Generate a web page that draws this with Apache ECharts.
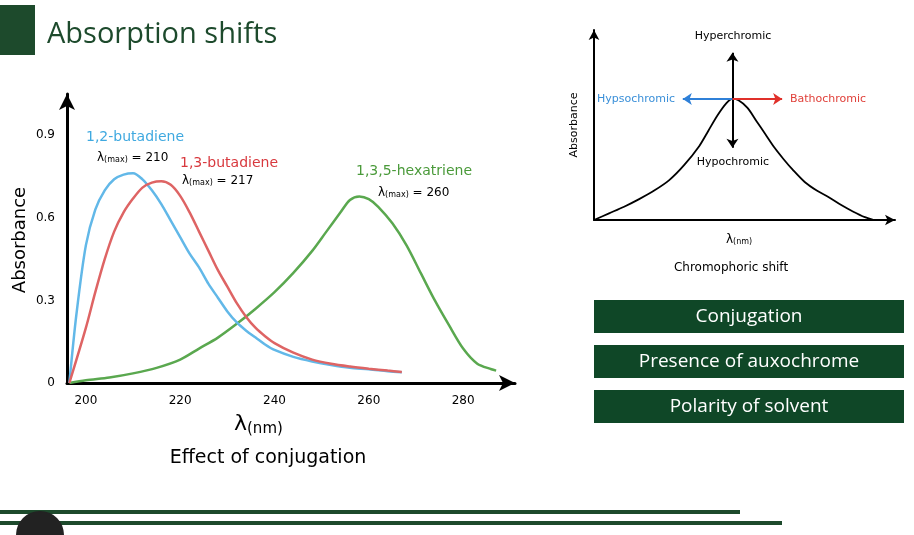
<!DOCTYPE html>
<html><head><meta charset="utf-8">
<script src="https://cdn.jsdelivr.net/npm/echarts@6/dist/echarts.min.js"></script>
<style>html,body{margin:0;padding:0;background:#fff}#c{width:914px;height:535px}</style>
</head><body><div id="c"></div>
<script>
const blueData = [[196.5,0],[198,0.25],[200,0.50],[202,0.63],[204,0.70],[206,0.74],[208,0.757],[210,0.762],[212,0.74],[214,0.70],[216,0.65],[218,0.59],[220,0.53],[222,0.47],[224,0.42],[226,0.36],[228,0.31],[230,0.26],[232,0.22],[234,0.19],[236,0.165],[238,0.14],[240,0.12],[244,0.095],[248,0.078],[252,0.065],[256,0.055],[260,0.05],[264,0.043],[267,0.039]];
const redData = [[196.5,0],[200,0.2],[202,0.33],[204,0.45],[206,0.55],[208,0.62],[210,0.67],[212,0.71],[214,0.728],[216,0.733],[218,0.72],[220,0.68],[222,0.62],[224,0.55],[226,0.48],[228,0.41],[230,0.35],[232,0.29],[234,0.24],[236,0.20],[238,0.17],[240,0.145],[244,0.11],[248,0.085],[252,0.07],[256,0.06],[260,0.052],[264,0.045],[267,0.04]];
const greenData = [[196.5,0],[200,0.01],[205,0.02],[210,0.035],[215,0.055],[220,0.085],[224,0.125],[228,0.165],[232,0.215],[236,0.27],[240,0.33],[244,0.40],[248,0.48],[251,0.55],[254,0.62],[256,0.665],[258,0.678],[260,0.668],[262,0.64],[265,0.58],[268,0.50],[271,0.40],[274,0.30],[277,0.21],[280,0.125],[283,0.07],[286,0.05],[287,0.045]];
const shiftCurve = [[0,0],[5,0.035],[10,0.07],[15,0.11],[20,0.155],[25,0.21],[30,0.29],[35,0.39],[38,0.47],[41,0.55],[44,0.615],[46,0.637],[48,0.63],[51,0.59],[54,0.52],[57,0.45],[60,0.38],[63,0.32],[66,0.265],[70,0.2],[74,0.155],[78,0.12],[82,0.08],[86,0.045],[90,0.015],[93,0]];
const xTicks = [200,220,240,260,280];
const yTicks = [0,0.3,0.6,0.9];
const boxLabels = ['Conjugation','Presence of auxochrome','Polarity of solvent'];

const chart = echarts.init(document.getElementById('c'));
const F = 'DejaVu Sans';
const graphics = [
 {type:'rect',shape:{x:0,y:5,width:35,height:50},style:{fill:'#1d4a2c'}},
 {type:'text',x:47,y:20,style:{text:'Absorption shifts',font:'29px "Open Sans"',fill:'#1d4a2c'}},
 {type:'text',x:20,y:240,rotation:Math.PI/2,style:{text:'Absorbance',font:'18px "DejaVu Sans"',fill:'#000',align:'center',verticalAlign:'middle'}},
 {type:'text',x:234,y:412,style:{text:'{a|λ}{b|(nm)}',rich:{a:{fontSize:22,fontFamily:F,fill:'#000'},b:{fontSize:15,fontFamily:F,fill:'#000',padding:[10,0,0,0]}}}},
 {type:'text',x:268,y:458,style:{text:'Effect of conjugation',font:'19px "DejaVu Sans"',fill:'#000',align:'center',verticalAlign:'middle'}},
 {type:'text',x:86,y:130,style:{text:'1,2-butadiene',font:'14px "DejaVu Sans"',fill:'#3fa9e0'}},
 {type:'text',x:97,y:151,style:{text:'{a|λ}{b|(max)}{a| = 210}',rich:{a:{fontSize:12,fontFamily:F,fill:'#000'},b:{fontSize:8,fontFamily:F,fill:'#000',padding:[5,0,0,0]}}}},
 {type:'text',x:180,y:156,style:{text:'1,3-butadiene',font:'14px "DejaVu Sans"',fill:'#d8393e'}},
 {type:'text',x:182,y:174,style:{text:'{a|λ}{b|(max)}{a| = 217}',rich:{a:{fontSize:12,fontFamily:F,fill:'#000'},b:{fontSize:8,fontFamily:F,fill:'#000',padding:[5,0,0,0]}}}},
 {type:'text',x:356,y:164,style:{text:'1,3,5-hexatriene',font:'14px "DejaVu Sans"',fill:'#4a9a3a'}},
 {type:'text',x:378,y:186,style:{text:'{a|λ}{b|(max)}{a| = 260}',rich:{a:{fontSize:12,fontFamily:F,fill:'#000'},b:{fontSize:8,fontFamily:F,fill:'#000',padding:[5,0,0,0]}}}},
 {type:'text',x:733,y:36,style:{text:'Hyperchromic',font:'11px "DejaVu Sans"',fill:'#000',align:'center',verticalAlign:'middle'}},
 {type:'text',x:733,y:162,style:{text:'Hypochromic',font:'11px "DejaVu Sans"',fill:'#000',align:'center',verticalAlign:'middle'}},
 {type:'text',x:675,y:99,style:{text:'Hypsochromic',font:'11px "DejaVu Sans"',fill:'#3a8fd8',align:'right',verticalAlign:'middle'}},
 {type:'text',x:790,y:99,style:{text:'Bathochromic',font:'11px "DejaVu Sans"',fill:'#e0403a',align:'left',verticalAlign:'middle'}},
 {type:'text',x:574,y:125,rotation:Math.PI/2,style:{text:'Absorbance',font:'11px "DejaVu Sans"',fill:'#000',align:'center',verticalAlign:'middle'}},
 {type:'text',x:726,y:233,style:{text:'{a|λ}{b|(nm)}',rich:{a:{fontSize:12,fontFamily:F,fill:'#000'},b:{fontSize:8,fontFamily:F,fill:'#000',padding:[5,0,0,0]}}}},
 {type:'text',x:731,y:268,style:{text:'Chromophoric shift',font:'12px "DejaVu Sans"',fill:'#000',align:'center',verticalAlign:'middle'}},
 {type:'rect',shape:{x:0,y:510,width:740,height:4},style:{fill:'#1d4a2c'}},
 {type:'rect',shape:{x:0,y:521,width:782,height:4},style:{fill:'#1d4a2c'}},
 {type:'circle',shape:{cx:40,cy:535,r:24},style:{fill:'#222'}}
];
boxLabels.forEach((t,i)=>{
 graphics.push({type:'rect',shape:{x:594,y:300+i*45,width:310,height:33},style:{fill:'#0f4727'}});
 graphics.push({type:'text',x:749,y:317+i*45,style:{text:t,font:'19px "Open Sans"',fill:'#fff',align:'center',verticalAlign:'middle'}});
});
const axLine = {show:true,lineStyle:{color:'#000',width:3},symbol:['none','arrow'],symbolSize:[12,16]};
const sm = {smooth:0.3,showSymbol:false};
chart.setOption({
 animation:false,
 graphic:graphics,
 grid:[{left:67,right:399,top:94,bottom:152},{left:594,right:19,top:30,bottom:315}],
 xAxis:[
  {type:'value',gridIndex:0,min:196,max:291,interval:4,axisLine:axLine,axisTick:{show:false},splitLine:{show:false},
   axisLabel:{showMaxLabel:false,color:'#000',fontSize:12,fontFamily:F,margin:12,formatter:v=>xTicks.includes(v)?String(v):''}},
  {type:'value',gridIndex:1,min:0,max:100,axisLine:{show:true,lineStyle:{color:'#000',width:2},symbol:['none','arrow'],symbolSize:[8,10]},axisTick:{show:false},axisLabel:{show:false},splitLine:{show:false}}
 ],
 yAxis:[
  {type:'value',gridIndex:0,min:0,max:1.05,interval:0.3,axisLine:axLine,axisTick:{show:false},splitLine:{show:false},
   axisLabel:{showMaxLabel:false,color:'#000',fontSize:12,fontFamily:F,margin:12,formatter:v=>yTicks.includes(+v.toFixed(2))?(v===0?'0':String(+v.toFixed(1))):''}},
  {type:'value',gridIndex:1,min:0,max:1,axisLine:{show:true,lineStyle:{color:'#000',width:2},symbol:['none','arrow'],symbolSize:[8,10]},axisTick:{show:false},axisLabel:{show:false},splitLine:{show:false}}
 ],
 series:[
  Object.assign({type:'line',xAxisIndex:0,yAxisIndex:0,data:greenData,lineStyle:{color:'#5aa84f',width:2.5}},sm),
  Object.assign({type:'line',xAxisIndex:0,yAxisIndex:0,data:blueData,lineStyle:{color:'#62b8e8',width:2.5}},sm),
  Object.assign({type:'line',xAxisIndex:0,yAxisIndex:0,data:redData,lineStyle:{color:'#de6464',width:2.5}},sm),
  Object.assign({type:'line',xAxisIndex:1,yAxisIndex:1,data:shiftCurve,lineStyle:{color:'#000',width:1.8},
   markLine:{silent:true,symbol:['none','arrow'],symbolSize:9,label:{show:false},data:[
    [{coord:[46,0.637],lineStyle:{color:'#000',width:2,type:'solid'}},{coord:[46,0.88]}],
    [{coord:[46,0.637],lineStyle:{color:'#000',width:2,type:'solid'}},{coord:[46,0.38]}],
    [{coord:[46,0.637],lineStyle:{color:'#2f80d8',width:2,type:'solid'}},{coord:[29.5,0.637]}],
    [{coord:[46,0.637],lineStyle:{color:'#e0302a',width:2,type:'solid'}},{coord:[62.5,0.637]}]
   ]}},sm)
 ]
});
</script></body></html>
